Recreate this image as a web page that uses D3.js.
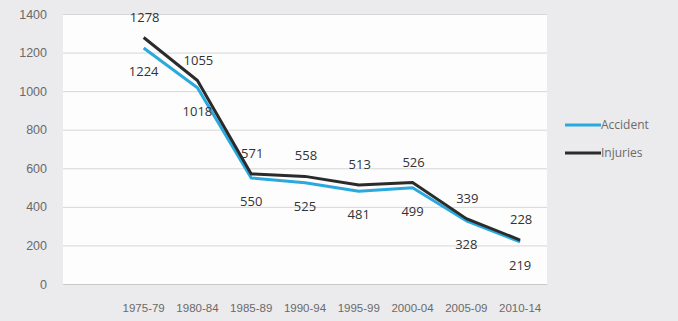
<!DOCTYPE html>
<html><head><meta charset="utf-8">
<script src="https://cdn.jsdelivr.net/npm/d3@7"></script>
<style>
html,body{margin:0;padding:0;background:#ebebed;}
svg{display:block;font-family:"Open Sans","Liberation Sans",sans-serif;}
</style></head>
<body><svg id="c" width="678" height="321"></svg>
<script>
const categories = ["1975-79","1980-84","1985-89","1990-94","1995-99","2000-04","2005-09","2010-14"];
const accident = [1224,1018,550,525,481,499,328,219];
const injuries = [1278,1055,571,558,513,526,339,228];
const yTicks = [0,200,400,600,800,1000,1200,1400];
const seriesNames = ["Accident","Injuries"];
const colors = ["#29a9dd","#2b2b2b"];

const svg = d3.select("#c");
const W = 678, H = 321;
svg.append("rect").attr("width",W).attr("height",H).attr("fill","#ebebed");

const plot = {l:63, r:547, t:14, b:284};
svg.append("rect").attr("x",plot.l).attr("y",plot.t).attr("width",plot.r-plot.l).attr("height",plot.b-plot.t).attr("fill","#fdfdfd");

const y = d3.scaleLinear().domain([0,1400]).range([plot.b, plot.t]);
const step = (plot.r-plot.l)/9;
const x = d3.scaleBand().domain(categories).range([plot.l+step, plot.r]);
const cx = d => x(d)+x.bandwidth()/2;

// gridlines
svg.append("g").selectAll("line").data(yTicks).join("line")
  .attr("x1",plot.l).attr("x2",plot.r)
  .attr("y1",d=>y(d)+0.5).attr("y2",d=>y(d)+0.5)
  .attr("stroke",d=>d===0?"#c8c8c8":"#d6d6d6").attr("stroke-width",1);

// y axis labels
const yAxis = d3.axisLeft(y).tickValues(yTicks).tickFormat(d3.format("d")).tickSize(0).tickPadding(0);
const gy = svg.append("g").attr("transform",`translate(${plot.l-16},0)`).call(yAxis);
gy.select(".domain").remove();
gy.selectAll("text").attr("fill","#6a6a6a").style("font-size","12.5px");

// x axis labels
const xAxis = d3.axisBottom(x).tickSize(0).tickPadding(0);
const gx = svg.append("g").attr("transform",`translate(0,${plot.b+20})`).call(xAxis);
gx.select(".domain").remove();
gx.selectAll("text").attr("fill","#6a6a6a").style("font-size","11.5px");

const series = [accident, injuries];
const line = d3.line().x((d,i)=>cx(categories[i])).y(d=>y(d));
series.forEach((s,k)=>{
  svg.append("path").datum(s).attr("d",line).attr("fill","none")
    .attr("stroke",colors[k]).attr("stroke-width",3).attr("stroke-linejoin","round");
});

// data labels
svg.append("g").selectAll("text").data(injuries).join("text")
  .attr("x",(d,i)=>cx(categories[i])+1).attr("y",d=>y(d)-16)
  .attr("text-anchor","middle").attr("fill","#333").style("font-size","13px").text(d=>d);
svg.append("g").selectAll("text").data(accident).join("text")
  .attr("x",(d,i)=>cx(categories[i])).attr("y",d=>y(d)+28)
  .attr("text-anchor","middle").attr("fill","#333").style("font-size","13px").text(d=>d);

// legend
const lg = svg.append("g");
seriesNames.forEach((n,k)=>{
  const yy = 125 + k*28;
  lg.append("line").attr("x1",565).attr("x2",601).attr("y1",yy).attr("y2",yy)
    .attr("stroke",colors[k]).attr("stroke-width",3);
  lg.append("text").attr("x",601).attr("y",yy+4).attr("fill","#6a6a6a")
    .style("font-size","12px").text(n);
});
</script></body></html>
